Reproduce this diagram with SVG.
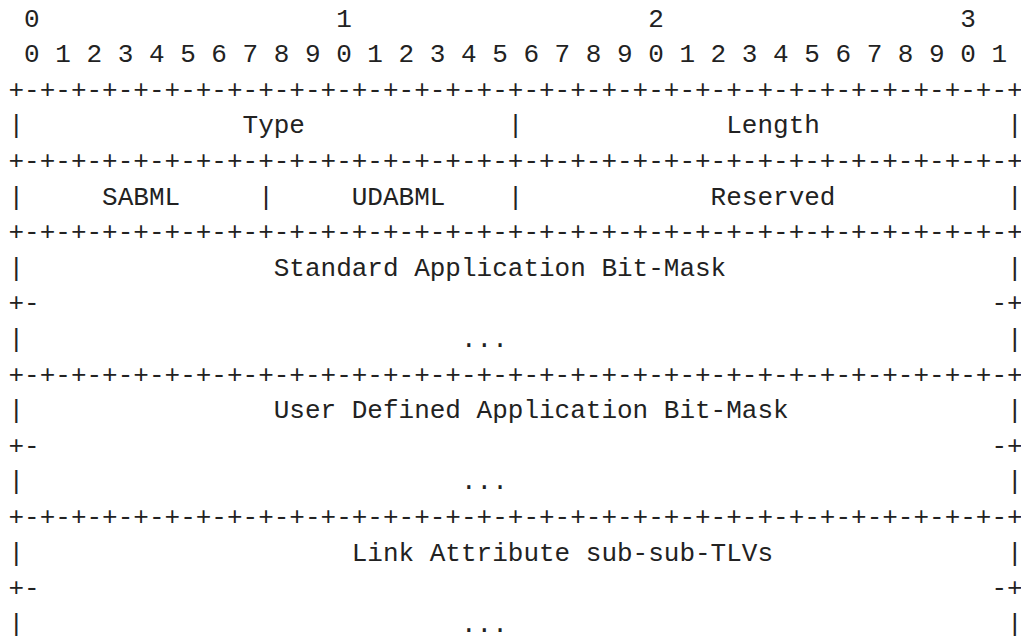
<svg xmlns="http://www.w3.org/2000/svg" width="1021" height="636" viewBox="0 0 1021 636">
<style>
text { font-family: "Liberation Mono", "DejaVu Sans Mono", monospace; font-size: 26px; fill: #222; white-space: pre; }
</style>
<rect width="1021" height="636" fill="#fff"/>
<g id="ruler">
<text x="8.5" y="26.5" xml:space="preserve"> 0                   1                   2                   3</text>
<text x="8.5" y="62.1" xml:space="preserve"> 0 1 2 3 4 5 6 7 8 9 0 1 2 3 4 5 6 7 8 9 0 1 2 3 4 5 6 7 8 9 0 1</text>
</g>
<g id="row-type-length">
<text x="8.5" y="97.7" xml:space="preserve">+-+-+-+-+-+-+-+-+-+-+-+-+-+-+-+-+-+-+-+-+-+-+-+-+-+-+-+-+-+-+-+-+</text>
<text x="8.5" y="133.3" xml:space="preserve">|              Type             |             Length            |</text>
</g>
<g id="row-sabml-udabml-reserved">
<text x="8.5" y="168.9" xml:space="preserve">+-+-+-+-+-+-+-+-+-+-+-+-+-+-+-+-+-+-+-+-+-+-+-+-+-+-+-+-+-+-+-+-+</text>
<text x="8.5" y="204.5" xml:space="preserve">|     SABML     |     UDABML    |            Reserved           |</text>
</g>
<g id="row-standard-mask">
<text x="8.5" y="240.1" xml:space="preserve">+-+-+-+-+-+-+-+-+-+-+-+-+-+-+-+-+-+-+-+-+-+-+-+-+-+-+-+-+-+-+-+-+</text>
<text x="8.5" y="275.7" xml:space="preserve">|                Standard Application Bit-Mask                  |</text>
<text x="8.5" y="311.3" xml:space="preserve">+-                                                             -+</text>
<text x="8.5" y="346.9" xml:space="preserve">|                            ...                                |</text>
</g>
<g id="row-user-mask">
<text x="8.5" y="382.5" xml:space="preserve">+-+-+-+-+-+-+-+-+-+-+-+-+-+-+-+-+-+-+-+-+-+-+-+-+-+-+-+-+-+-+-+-+</text>
<text x="8.5" y="418.1" xml:space="preserve">|                User Defined Application Bit-Mask              |</text>
<text x="8.5" y="453.7" xml:space="preserve">+-                                                             -+</text>
<text x="8.5" y="489.3" xml:space="preserve">|                            ...                                |</text>
</g>
<g id="row-sub-tlvs">
<text x="8.5" y="524.9" xml:space="preserve">+-+-+-+-+-+-+-+-+-+-+-+-+-+-+-+-+-+-+-+-+-+-+-+-+-+-+-+-+-+-+-+-+</text>
<text x="8.5" y="560.5" xml:space="preserve">|                     Link Attribute sub-sub-TLVs               |</text>
<text x="8.5" y="596.1" xml:space="preserve">+-                                                             -+</text>
<text x="8.5" y="631.7" xml:space="preserve">|                            ...                                |</text>
</g>
</svg>
